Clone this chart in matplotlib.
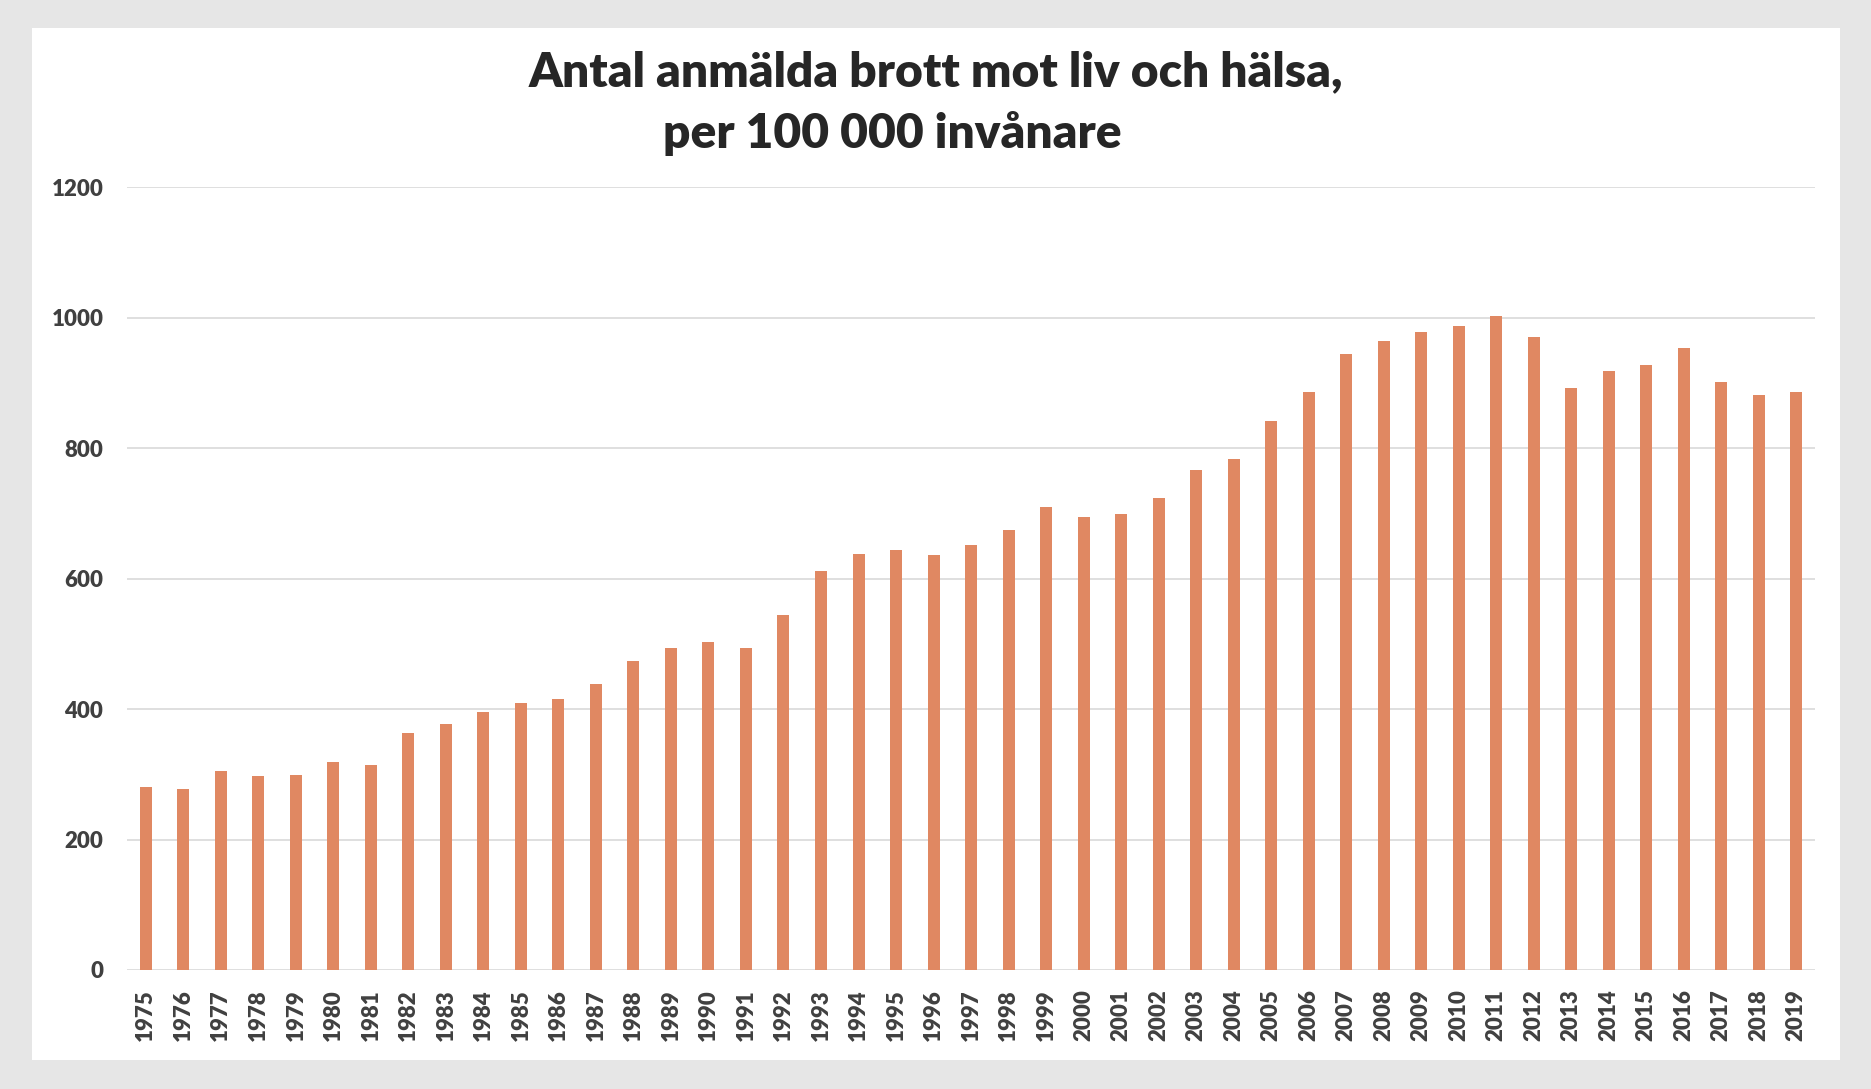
import numpy as np
import matplotlib.pyplot as plt
from matplotlib.patches import Rectangle

years = [str(y) for y in range(1975, 2020)]
values = [280, 277, 305, 297, 299, 319, 314, 364, 377, 395, 409, 415, 439, 474, 494,
          503, 494, 545, 611, 638, 644, 637, 651, 675, 710, 695, 699, 724, 766, 784,
          842, 886, 945, 965, 978, 988, 1002, 971, 893, 919, 928, 953, 902, 882, 886]
yticks = [0, 200, 400, 600, 800, 1000, 1200]
title1 = "Antal anmälda brott mot liv och hälsa,"
title2 = "per 100 000 invånare"

plt.rcParams['font.family'] = ['Lato', 'DejaVu Sans']

fig = plt.figure(figsize=(18.71, 10.89), dpi=100, facecolor='#e6e6e6')
# white chart panel
fig.patches.append(Rectangle((0.0171, 0.0266), 0.9663, 0.9477, transform=fig.transFigure,
                             facecolor='white', edgecolor='none', zorder=-5))

ax = fig.add_axes([0.0679, 0.1093, 0.9022, 0.7187])
ax.set_facecolor('none')
x = np.arange(len(years))
ax.bar(x, values, width=0.32, color='#e08862', zorder=3)

ax.set_xlim(-0.5, len(years) - 0.5)
ax.set_ylim(0, 1200)
ax.set_yticks(yticks)
ax.set_yticklabels([str(t) for t in yticks])
ax.set_xticks(x)
ax.set_xticklabels(years, rotation=90)
ax.yaxis.grid(True, color='#d9d9d9', linewidth=1.2)
ax.set_axisbelow(True)
for s in ax.spines.values():
    s.set_visible(False)
ax.tick_params(axis='both', length=0, labelsize=16, labelcolor='#404040')
ax.tick_params(axis='y', pad=17)
ax.tick_params(axis='x', pad=14)
for lab in ax.get_xticklabels() + ax.get_yticklabels():
    lab.set_fontweight('heavy')

fig.text(0.500, 0.934, title1, ha='center', va='center', fontsize=34.5,
         fontweight='heavy', color='#262626')
fig.text(0.477, 0.877, title2, ha='center', va='center', fontsize=34.5,
         fontweight='heavy', color='#262626')

fig.savefig('out.png', dpi=100, facecolor=fig.get_facecolor())
